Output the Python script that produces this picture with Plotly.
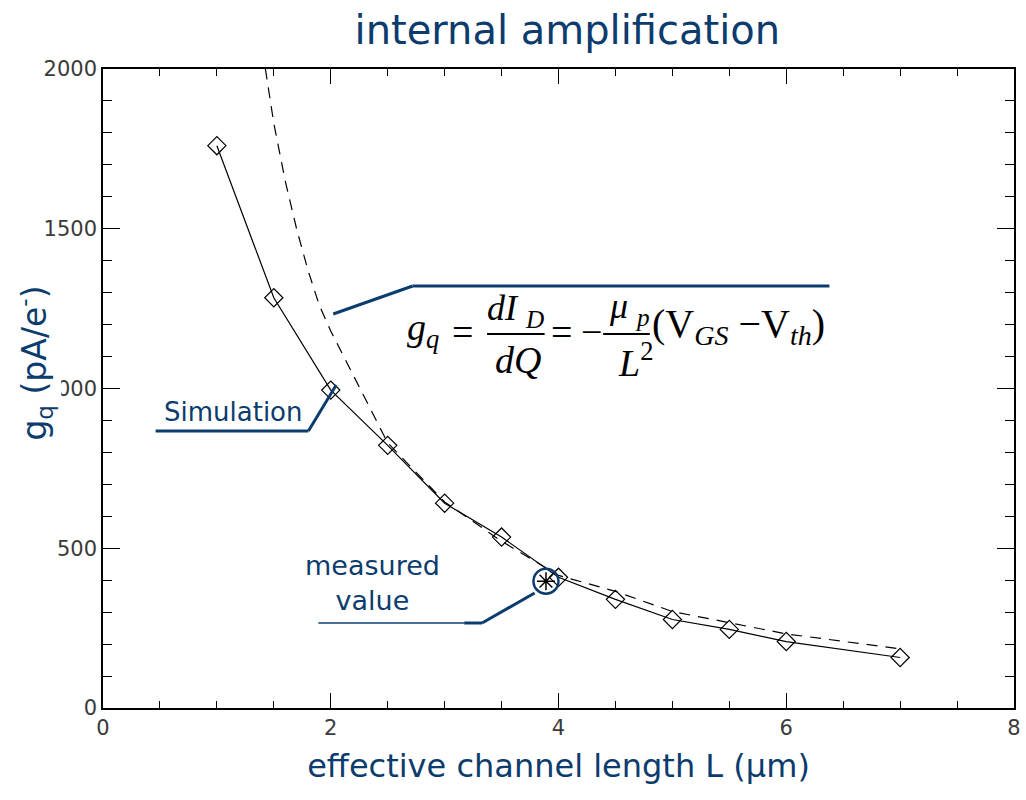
import plotly.graph_objects as go

# ---- data ----
sim_L = [1.0, 1.5, 2.0, 2.5, 3.0, 3.5, 4.0, 4.5, 5.0, 5.5, 6.0, 7.0]
sim_g = [1760, 1284, 995, 822, 641, 535, 409, 340, 277, 246, 208, 158]

theory_L = [1.40, 1.5, 1.6, 1.7, 1.8, 1.9, 2.0, 2.5, 3.0, 3.5, 4.0, 4.5, 5.0, 5.5, 6.0, 7.0]
theory_g = [2060, 1830, 1650, 1500, 1370, 1260, 1180, 830, 645, 522, 415, 365, 302, 266, 232, 185]

meas_L = [3.89]
meas_g = [397]

x_ticks = [0, 2, 4, 6, 8]
y_ticks = [0, 500, 1000, 1500, 2000]

BLUE = "#0c3c6e"
W, H = 1026, 800
ML, MR, MT, MB = 103, 5, 69, 92
XR = [0, 8]
YR = [0, 2000]
PW = W - ML - MR
PH = H - MT - MB


def px(xp):
    return XR[0] + (xp - ML) / PW * (XR[1] - XR[0])


def py(yp):
    return YR[0] + (H - MB - yp) / PH * (YR[1] - YR[0])


fig = go.Figure()

fig.add_trace(go.Scatter(x=theory_L, y=theory_g, mode="lines",
                         line=dict(color="black", width=1.2, dash="11px,8px"),
                         showlegend=False, hoverinfo="skip"))
fig.add_trace(go.Scatter(x=sim_L, y=sim_g, mode="lines+markers",
                         line=dict(color="black", width=1.2),
                         marker=dict(symbol="diamond-open", size=14,
                                     color="black", line=dict(width=1.2)),
                         showlegend=False))
fig.add_trace(go.Scatter(x=meas_L, y=meas_g, mode="markers",
                         marker=dict(symbol="circle-open", size=25,
                                     color=BLUE, line=dict(width=2.5)),
                         showlegend=False))
fig.add_trace(go.Scatter(x=meas_L, y=meas_g, mode="markers",
                         marker=dict(symbol="asterisk-open", size=15,
                                     color="black", line=dict(width=1.5)),
                         showlegend=False))

shapes = []


def seg(pts, width=3, color=BLUE):
    for (x0, y0), (x1, y1) in zip(pts[:-1], pts[1:]):
        shapes.append(dict(type="line", xref="x", yref="y",
                           x0=px(x0), y0=py(y0), x1=px(x1), y1=py(y1),
                           line=dict(color=color, width=width)))


# pointer lines
seg([(156, 431), (310, 431), (338, 385)])
seg([(335, 314), (415, 286), (835, 286)])
seg([(320, 623), (467, 623)], width=2, color="#4a6f98")
seg([(467, 623), (485, 623), (538, 593)])
# fraction bars
seg([(490, 334), (548, 334)], width=2, color="black")
seg([(607, 334), (654, 334)], width=2, color="black")

annotations = []


def txt(x, y, text, size, family="DejaVu Sans", color=BLUE, xanchor="center",
        yanchor="middle", **kw):
    annotations.append(dict(x=px(x), y=py(y), xref="x", yref="y", text=text,
                            showarrow=False, xanchor=xanchor, yanchor=yanchor,
                            font=dict(size=size, family=family, color=color), **kw))


txt(235, 412, "Simulation", 26)
txt(375, 583, "measured<br>value", 27)

SERIF = "Liberation Serif, Times New Roman, serif"
txt(407, 330, "<i>g</i><sub><i>q</i></sub>", 38, SERIF, "black", xanchor="left")
txt(465, 332, "=", 38, SERIF, "black")
txt(519, 310, "<i>dI</i> <sub><i>D</i></sub>", 36, SERIF, "black")
txt(521, 360, "<i>dQ</i>", 38, SERIF, "black")
txt(565, 332, "=", 38, SERIF, "black")
txt(595, 332, "−", 38, SERIF, "black")
txt(634, 308, "<i>μ</i> <sub><i>p</i></sub>", 36, SERIF, "black")
txt(640, 360, "<i>L</i><sup>2</sup>", 38, SERIF, "black")
txt(654, 326, "(V<sub><i>GS</i></sub> −V<sub><i>th</i></sub>)", 40, SERIF, "black",
    xanchor="left")

# y title with white box (covers part of the 1000 tick label)
annotations.append(dict(x=-0.075, y=0.54, xref="paper", yref="paper",
                        text="g<sub>q</sub> (pA/e<sup>-</sup>)", textangle=-90,
                        showarrow=False, bgcolor="white", borderpad=3,
                        xanchor="center", yanchor="middle",
                        font=dict(size=33, family="DejaVu Sans", color=BLUE)))

axis_common = dict(showgrid=False, zeroline=False, showline=True,
                   linecolor="black", linewidth=1.5, mirror="ticks",
                   ticks="inside", tickcolor="black", tickwidth=1.3,
                   tickfont=dict(family="DejaVu Sans", size=21, color="#3a3a3a"))

fig.update_layout(
    width=W, height=H,
    margin=dict(l=ML, r=MR, t=MT, b=MB),
    paper_bgcolor="white", plot_bgcolor="white",
    title=dict(text="internal amplification", x=0.553, xanchor="center",
               y=0.962, yanchor="middle",
               font=dict(family="DejaVu Sans", size=40, color=BLUE)),
    xaxis=dict(range=XR, tickvals=x_ticks, ticklen=15,
               minor=dict(dtick=0.5, ticklen=7, ticks="inside",
                          tickcolor="black", tickwidth=1.2),
               title=dict(text="effective channel length L (μm)",
                          font=dict(family="DejaVu Sans", size=32, color=BLUE),
                          standoff=16),
               **axis_common),
    yaxis=dict(range=YR, tickvals=y_ticks, ticklen=17,
               minor=dict(dtick=100, ticklen=9, ticks="inside",
                          tickcolor="black", tickwidth=1.2),
               **axis_common),
    shapes=shapes,
    annotations=annotations,
)

fig.write_html("out.html")
